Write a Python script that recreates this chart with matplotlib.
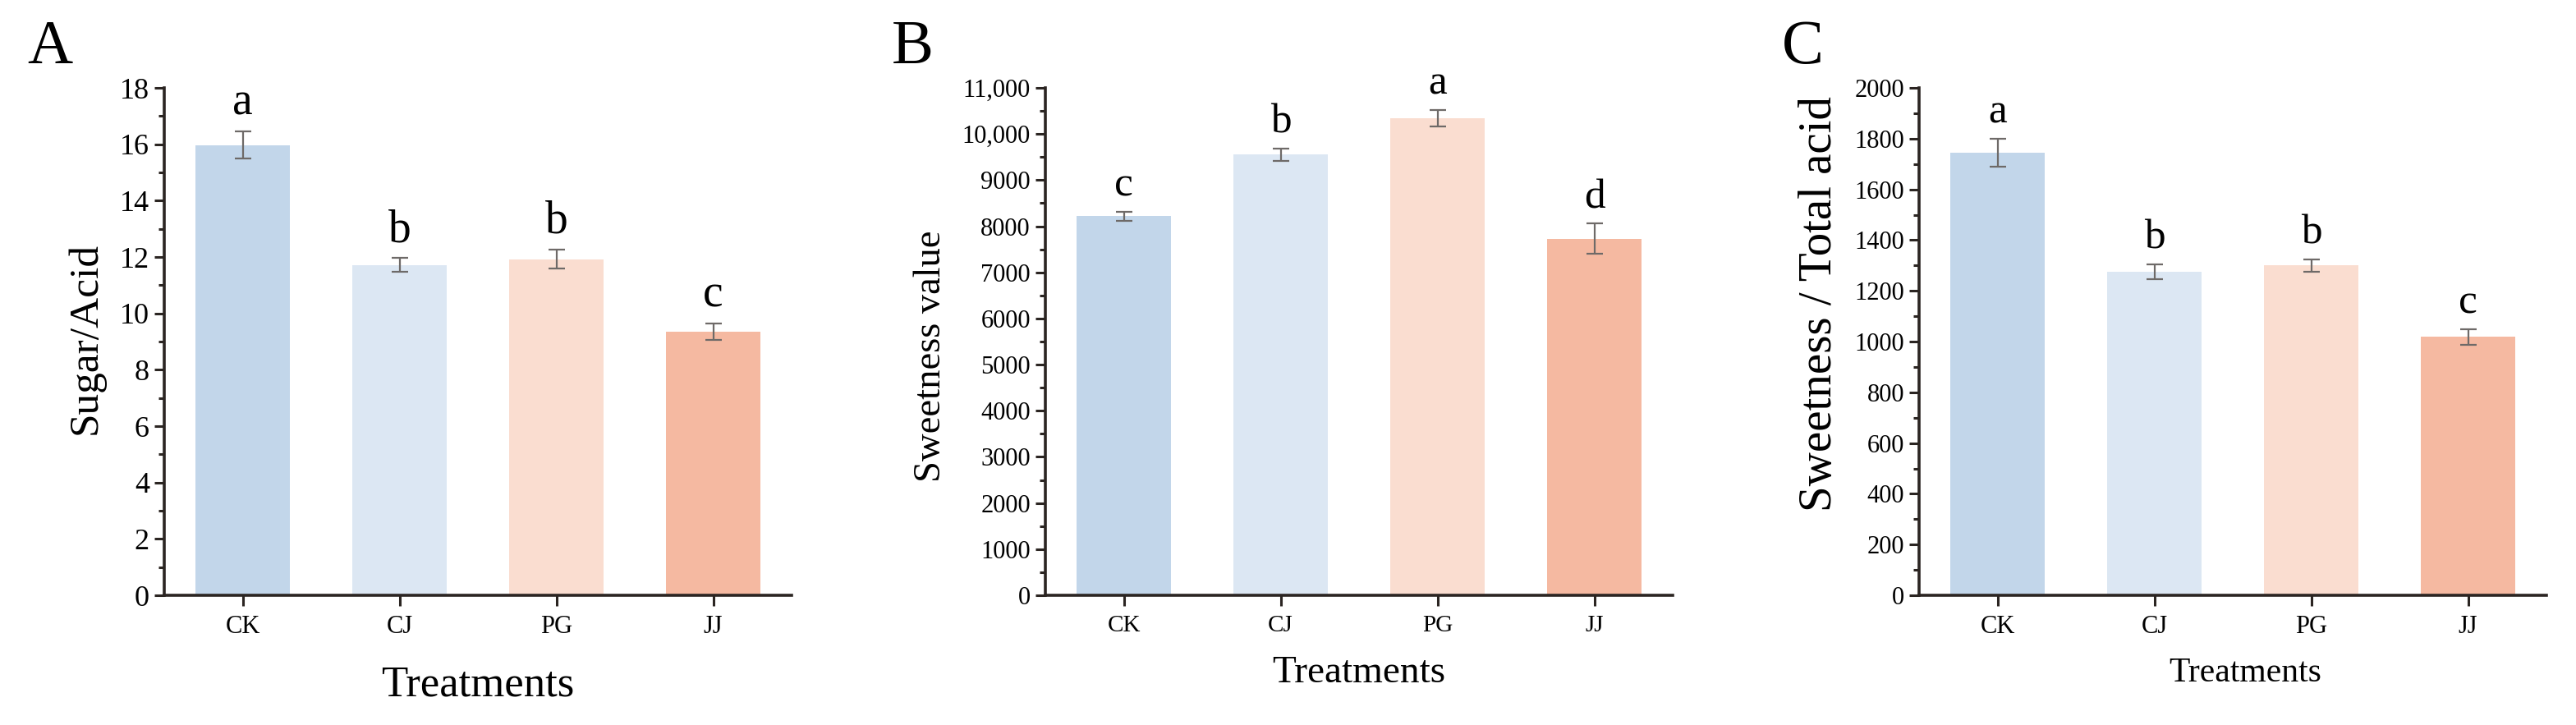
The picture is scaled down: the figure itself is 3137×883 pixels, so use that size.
import matplotlib
matplotlib.use("Agg")
import matplotlib.pyplot as plt
from matplotlib.ticker import FixedLocator, FixedFormatter, MultipleLocator

plt.rcParams['font.family'] = ['Liberation Serif', 'DejaVu Serif']

# ---------------- data ----------------
treatments = ["CK", "CJ", "PG", "JJ"]
bar_colors = ["#C2D6EA", "#DCE7F3", "#FADDD0", "#F5B9A1"]

sugar_acid = [15.97, 11.72, 11.92, 9.35]
sugar_acid_err = [0.48, 0.24, 0.34, 0.30]
sugar_acid_letters = ["a", "b", "b", "c"]
sugar_acid_ticks = [0, 2, 4, 6, 8, 10, 12, 14, 16, 18]
sugar_acid_ticklabels = ["0", "2", "4", "6", "8", "10", "12", "14", "16", "18"]

sweetness = [8220, 9555, 10340, 7730]
sweetness_err = [98, 136, 178, 327]
sweetness_letters = ["c", "b", "a", "d"]
sweetness_ticks = [0, 1000, 2000, 3000, 4000, 5000, 6000, 7000, 8000, 9000, 10000, 11000]
sweetness_ticklabels = ["0", "1000", "2000", "3000", "4000", "5000", "6000", "7000",
                        "8000", "9000", "10,000", "11,000"]

sweet_acid = [1745, 1275, 1300, 1018]
sweet_acid_err = [55, 29, 24, 32]
sweet_acid_letters = ["a", "b", "b", "c"]
sweet_acid_ticks = [0, 200, 400, 600, 800, 1000, 1200, 1400, 1600, 1800, 2000]
sweet_acid_ticklabels = ["0", "200", "400", "600", "800", "1000", "1200", "1400",
                         "1600", "1800", "2000"]

W, H = 3137, 883
fig = plt.figure(figsize=(W / 100, H / 100), dpi=100)

spine_color = "#2B2522"

panels = [
    dict(left=200, vals=sugar_acid, err=sugar_acid_err, letters=sugar_acid_letters,
         ticks=sugar_acid_ticks, ticklabels=sugar_acid_ticklabels, ymax=18, minor=1,
         ylabel="Sugar/Acid", ylabel_fs=37, ylabel_xy=(104, 412), ytick_fs=26, xtick_fs=22,
         xlabel_fs=38, letter_fs=40, panel="A", panel_x=33, xlabel_y=834, xlabel_dx=0),
    dict(left=1273, vals=sweetness, err=sweetness_err, letters=sweetness_letters,
         ticks=sweetness_ticks, ticklabels=sweetness_ticklabels, ymax=11000, minor=500,
         ylabel="Sweetness value", ylabel_fs=33.5, ylabel_xy=(1134, 434), ytick_fs=22,
         xtick_fs=21, xlabel_fs=34, letter_fs=37, panel="B", panel_x=1086, xlabel_y=820,
         xlabel_dx=0),
    dict(left=2337, vals=sweet_acid, err=sweet_acid_err, letters=sweet_acid_letters,
         ticks=sweet_acid_ticks, ticklabels=sweet_acid_ticklabels, ymax=2000, minor=100,
         ylabel="Sweetness / Total acid", ylabel_fs=41, ylabel_xy=(2216, 370), ytick_fs=22,
         xtick_fs=22, xlabel_fs=30, letter_fs=37, panel="C", panel_x=2170, xlabel_y=820,
         xlabel_dx=15),
]

ax_top, ax_bottom = 107, 725
ax_w = 764

for p in panels:
    ax = fig.add_axes([p["left"] / W, 1 - ax_bottom / H, ax_w / W, (ax_bottom - ax_top) / H])
    x = list(range(len(treatments)))
    ax.bar(x, p["vals"], width=0.6, color=bar_colors, edgecolor="none", zorder=2)
    ax.errorbar(x, p["vals"], yerr=p["err"], fmt="none", ecolor="#6E6A68",
                elinewidth=1.6, capsize=7, capthick=1.6, zorder=3)
    for xi, v, e, lab in zip(x, p["vals"], p["err"], p["letters"]):
        ax.annotate(lab, (xi, v + e), xytext=(0, 6), textcoords="offset points",
                    ha="center", va="bottom", fontsize=p["letter_fs"], color="black")
    ax.set_xlim(-0.5, 3.5)
    ax.set_ylim(0, p["ymax"])
    ax.yaxis.set_major_locator(FixedLocator(p["ticks"]))
    ax.yaxis.set_major_formatter(FixedFormatter(p["ticklabels"]))
    ax.yaxis.set_minor_locator(MultipleLocator(p["minor"]))
    ax.set_xticks(x)
    ax.set_xticklabels(treatments)
    for s in ["top", "right"]:
        ax.spines[s].set_visible(False)
    for s in ["left", "bottom"]:
        ax.spines[s].set_color(spine_color)
        ax.spines[s].set_linewidth(2.6)
    ax.tick_params(axis="both", which="major", direction="out", length=9, width=2.2,
                   color=spine_color)
    ax.tick_params(axis="y", which="minor", direction="out", length=5, width=2.2,
                   color=spine_color)
    ax.tick_params(axis="y", labelsize=p["ytick_fs"], pad=4)
    ax.tick_params(axis="x", labelsize=p["xtick_fs"], pad=8)
    lx, ly = p["ylabel_xy"]
    fig.text(lx / W, 1 - ly / H, p["ylabel"], rotation=90, ha="center", va="center",
             fontsize=p["ylabel_fs"])
    cx = (p["left"] + ax_w / 2 + p["xlabel_dx"]) / W
    fig.text(cx, 1 - p["xlabel_y"] / H, "Treatments", ha="center", va="center",
             fontsize=p["xlabel_fs"])
    fig.text(p["panel_x"] / W, 1 - 77 / H, p["panel"], ha="left", va="baseline",
             fontsize=55)

fig.savefig("out.png", dpi=100, facecolor="white")
